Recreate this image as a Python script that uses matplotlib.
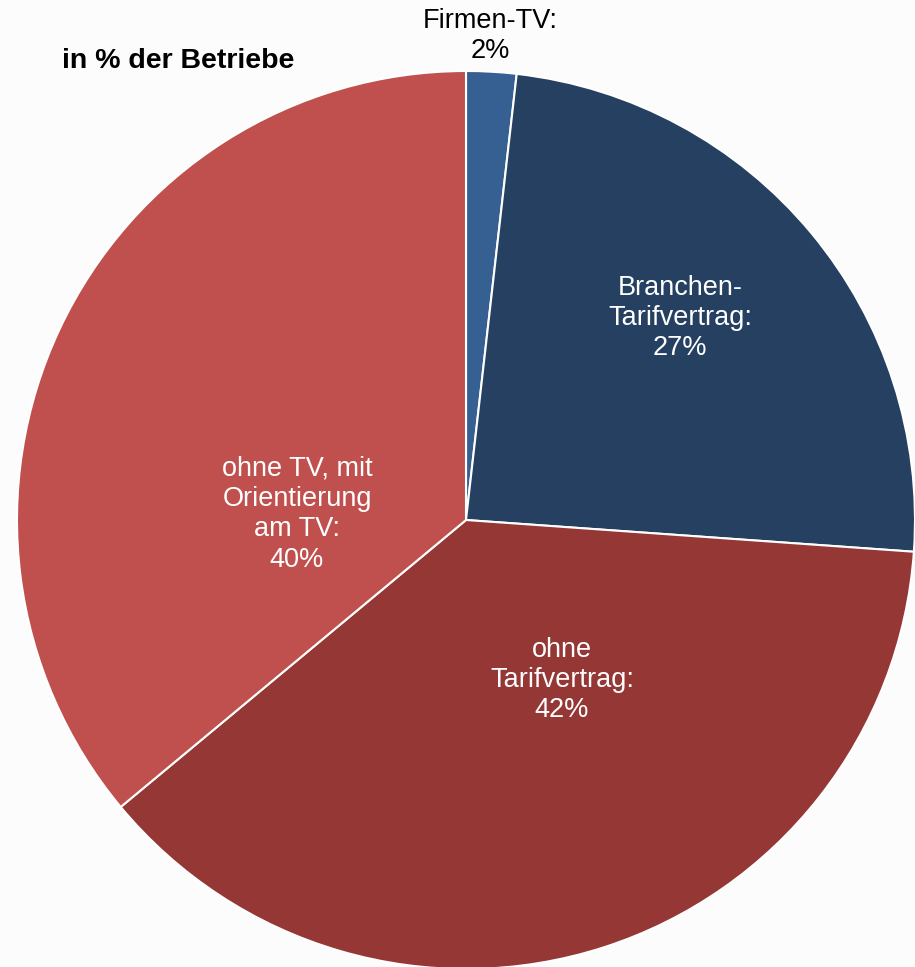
import matplotlib
matplotlib.use('Agg')
import matplotlib.pyplot as plt

# Data (as labelled in the source chart; the slices are drawn proportionally)
categories = ['Firmen-TV', 'Branchen-\nTarifvertrag', 'ohne\nTarifvertrag', 'ohne TV, mit\nOrientierung\nam TV']
values = [2, 27, 42, 40]
colors = ['#376092', '#254061', '#953735', '#C0504D']

# label anchor positions in pixel space (x, y from top) and text colours
label_pos = [(490, 36), (680, 318), (562, 680), (297, 514)]
label_colors = ['black', 'white', 'white', 'white']

plt.rcParams['font.family'] = ['Liberation Sans', 'DejaVu Sans']

W, H = 915, 967
fig = plt.figure(figsize=(W / 100, H / 100), dpi=100, facecolor='#FCFCFC')
ax = fig.add_axes([0, 0, 1, 1])
ax.set_facecolor('#FCFCFC')

cx, cy, r = 466, H - 520, 449
ax.pie(values, colors=colors, startangle=90, counterclock=False,
       center=(cx, cy), radius=r, frame=True,
       wedgeprops=dict(edgecolor='white', linewidth=1.5))
ax.set_xlim(0, W)
ax.set_ylim(0, H)
ax.set_aspect('equal')
ax.axis('off')

for cat, val, (lx, ly), col in zip(categories, values, label_pos, label_colors):
    ax.text(lx, H - ly, f'{cat}:\n{val}%', ha='center', va='center',
            fontsize=19.5, color=col, linespacing=1.22)

ax.text(62, H - 61, 'in % der Betriebe', ha='left', va='center',
        fontsize=20.5, fontweight='bold', color='black')

fig.savefig('out.png', dpi=100, facecolor=fig.get_facecolor())
